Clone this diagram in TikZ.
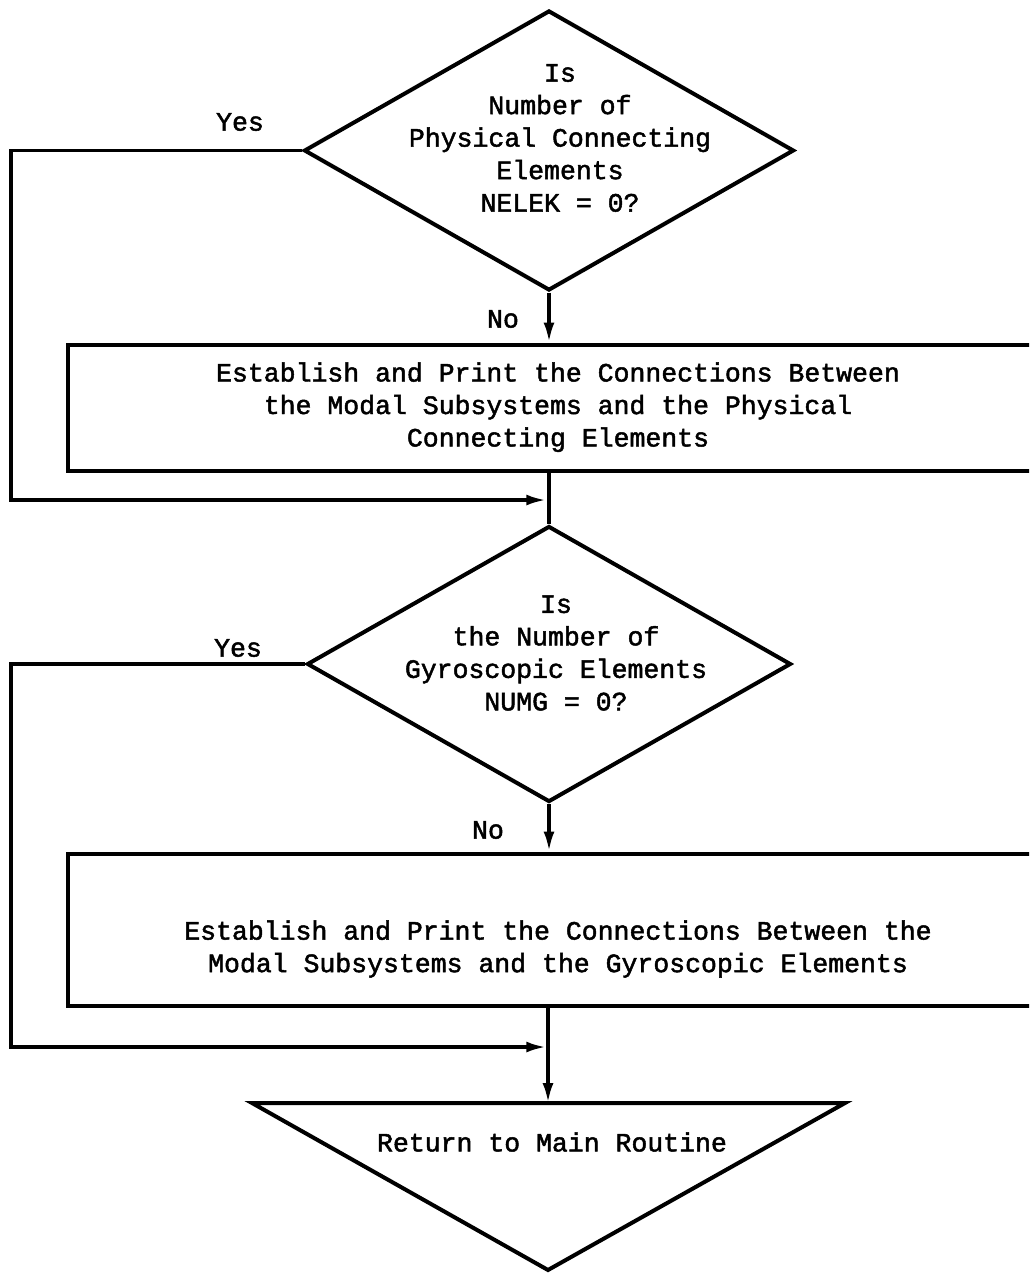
\documentclass[tikz,border=0pt]{standalone}
\usepackage{fontspec}
\newfontfamily\tw{Liberation Mono}[RawFeature={embolden=1.8}]
\usetikzlibrary{shapes.geometric,arrows.meta}
\begin{document}
\begin{tikzpicture}[x=1pt,y=-1pt,
  ln/.style={line width=3.5pt},
  arr/.style={line width=3.5pt,-{Latex[length=20pt,width=11pt]}},
  dia/.style={diamond,draw,line width=4pt,inner sep=0pt},
  box/.style={rectangle,draw,line width=4pt,inner sep=0pt},
  txt/.style={font={\tw\fontsize{26.5}{32.5}\selectfont},align=center,inner sep=0pt},
]
\useasboundingbox (0,0) rectangle (1029,1278);
\clip (0,0) rectangle (1029,1278);

% first decision
\node[dia,minimum width=490,minimum height=280] (d1) at (549,150.5) {};
\node[txt] (t1) at (560,138) {Is\\Number of\\Physical Connecting\\Elements\\NELEK = 0?};
\node[txt] (y1) at (240,122) {Yes};
\node[txt] (n1) at (503,319) {No};

% first process
\node[box,minimum width=980,minimum height=126] (r1) at (558,407.5)
  {\tw\fontsize{26.5}{32.5}\selectfont\begin{tabular}{@{}c@{}}Establish and Print the Connections Between\\the Modal Subsystems and the Physical\\Connecting Elements\end{tabular}};

% second decision
\node[dia,minimum width=484,minimum height=276] (d2) at (549,664) {};
\node[txt] (t2) at (556,653) {Is\\the Number of\\Gyroscopic Elements\\NUMG = 0?};
\node[txt] (y2) at (238,648) {Yes};
\node[txt] (n2) at (488,830) {No};

% second process
\node[box,minimum width=980,minimum height=152] (r2) at (558,929.5) {};
\node[txt] (t3) at (558,949) {Establish and Print the Connections Between the\\Modal Subsystems and the Gyroscopic Elements};

% terminal triangle
\coordinate (ttl) at (252,1103);
\coordinate (ttr) at (845,1103);
\coordinate (tbot) at (548,1270);
\coordinate (ttop) at (548,1103);
\draw[line width=4pt,line join=miter] (ttl) -- (ttr) -- (tbot) -- cycle;
\node[txt] (ret) at (552,1142) {Return to Main Routine};

% junctions
\coordinate (L1) at (11,500);
\coordinate (J1) at (548,500);
\coordinate (L2) at (11,1047);
\coordinate (J2) at (548,1047);

% connectors
\draw[arr] (d1.south) -- (d1.south |- r1.north);
\draw[ln] (r1.south -| d2.north) -- (d2.north);
\draw[arr,shorten >=1.75pt] (d1.west) -| (L1) -- (J1);

\draw[arr] (d2.south) -- (d2.south |- r2.north);
\draw[arr] (r2.south -| ttop) -- (ttop);
\draw[arr,shorten >=1.75pt] (d2.west) -| (L2) -- (J2);
\end{tikzpicture}
\end{document}
